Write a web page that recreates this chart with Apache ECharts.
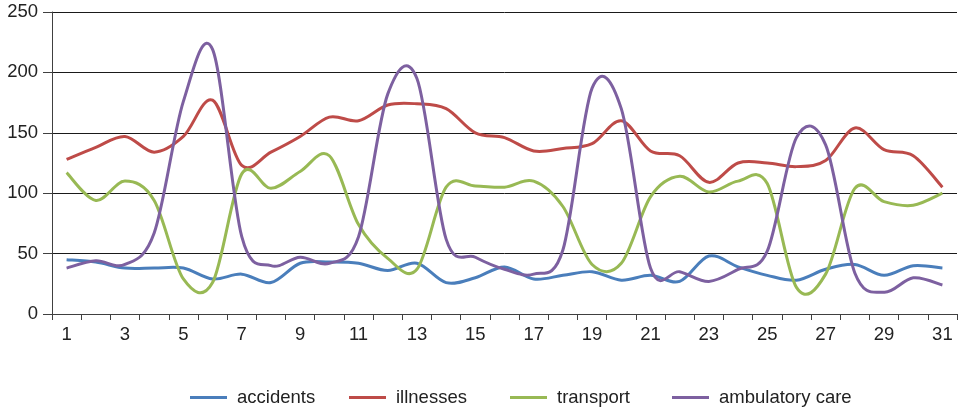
<!DOCTYPE html>
<html>
<head>
<meta charset="utf-8">
<script src="https://cdn.jsdelivr.net/npm/echarts@6/dist/echarts.min.js"></script>
<style>
  html, body { margin: 0; padding: 0; background: #fff; }
  #chart { width: 959px; height: 408px; }
</style>
</head>
<body>
<div id="chart"></div>
<script>
// Days of the month
const days = Array.from({ length: 31 }, (_, i) => String(i + 1));

// Daily counts per call type
const accidents = [45, 43, 38, 38, 38, 29, 33, 26, 42, 43, 42, 36, 42, 26, 30, 39,
  29, 32, 35, 28, 32, 27, 48, 39, 32, 28, 37, 41, 32, 40, 38];
const illnesses = [128, 138, 147, 134, 147, 177, 123, 134, 147, 163, 160, 173, 174, 170, 150, 146,
  135, 137, 141, 160, 135, 131, 109, 125, 125, 122, 127, 154, 136, 131, 105];
const transport = [117, 94, 110, 94, 29, 26, 116, 104, 118, 131, 74, 46, 37, 105, 106, 105,
  110, 89, 41, 42, 97, 114, 101, 110, 108, 22, 33, 104, 93, 90, 100];
const ambulatoryCare = [38, 44, 41, 67, 176, 219, 64, 40, 47, 42, 64, 182, 195, 62, 47, 37,
  33, 53, 187, 170, 38, 35, 27, 37, 52, 146, 140, 34, 18, 30, 24];

const seriesNames = ['accidents', 'illnesses', 'transport', 'ambulatory care'];
const seriesData = [accidents, illnesses, transport, ambulatoryCare];
const colors = ['#4a7ebb', '#be4b48', '#98b954', '#7d60a0'];
const legendLeft = [185, 344, 505, 667];

const font = 'Liberation Sans, Arial, sans-serif';

// Smooth curve through every point (Catmull-Rom spline as cubic Bezier segments)
function smoothPath(pts) {
  let d = 'M' + pts[0][0] + ' ' + pts[0][1];
  for (let i = 0; i < pts.length - 1; i++) {
    const p0 = pts[Math.max(i - 1, 0)];
    const p1 = pts[i];
    const p2 = pts[i + 1];
    const p3 = pts[Math.min(i + 2, pts.length - 1)];
    const c1x = p1[0] + (p2[0] - p0[0]) / 6;
    const c1y = p1[1] + (p2[1] - p0[1]) / 6;
    const c2x = p2[0] - (p3[0] - p1[0]) / 6;
    const c2y = p2[1] - (p3[1] - p1[1]) / 6;
    d += ' C' + c1x + ' ' + c1y + ' ' + c2x + ' ' + c2y + ' ' + p2[0] + ' ' + p2[1];
  }
  return d;
}

const chart = echarts.init(document.getElementById('chart'), null, { renderer: 'canvas' });

chart.setOption({
  animation: false,
  color: colors,
  grid: { left: 52, right: 2, top: 12, bottom: 94, containLabel: false },
  legend: seriesNames.map((name, i) => ({
    left: legendLeft[i],
    top: 383,
    itemWidth: 37,
    itemHeight: 3,
    icon: 'rect',
    textStyle: {
      fontFamily: font,
      fontSize: 18.5,
      color: '#222',
      padding: [0, 0, 0, 5]
    },
    data: [{ name, itemStyle: { color: colors[i] } }]
  })),
  xAxis: {
    type: 'category',
    data: days,
    boundaryGap: true,
    axisLine: { lineStyle: { color: '#404040', width: 1 } },
    axisTick: { show: true, interval: 0, length: 6, lineStyle: { color: '#404040' } },
    axisLabel: {
      interval: 1,
      margin: 11,
      fontFamily: font,
      fontSize: 18.5,
      color: '#222'
    },
    splitLine: { show: false }
  },
  yAxis: {
    type: 'value',
    min: 0,
    max: 250,
    interval: 50,
    axisLine: { show: true, lineStyle: { color: '#404040', width: 1 } },
    axisTick: { show: true, length: 9, lineStyle: { color: '#404040' } },
    axisLabel: {
      margin: 14,
      fontFamily: font,
      fontSize: 18.5,
      color: '#222'
    },
    splitLine: { lineStyle: { color: '#1a1a1a', width: 1 } }
  },
  series: seriesNames.map((name, s) => ({
    name,
    type: 'custom',
    data: seriesData[s].map((v, i) => [i, v]),
    encode: { x: 0, y: 1 },
    itemStyle: { color: colors[s] },
    renderItem: (params, api) => {
      if (params.dataIndex !== 0) return null;
      const pts = seriesData[s].map((v, i) => api.coord([i, v]));
      return {
        type: 'path',
        shape: { pathData: smoothPath(pts) },
        style: { fill: null, stroke: colors[s], lineWidth: 3, lineJoin: 'round' }
      };
    }
  }))
});
</script>
</body>
</html>
